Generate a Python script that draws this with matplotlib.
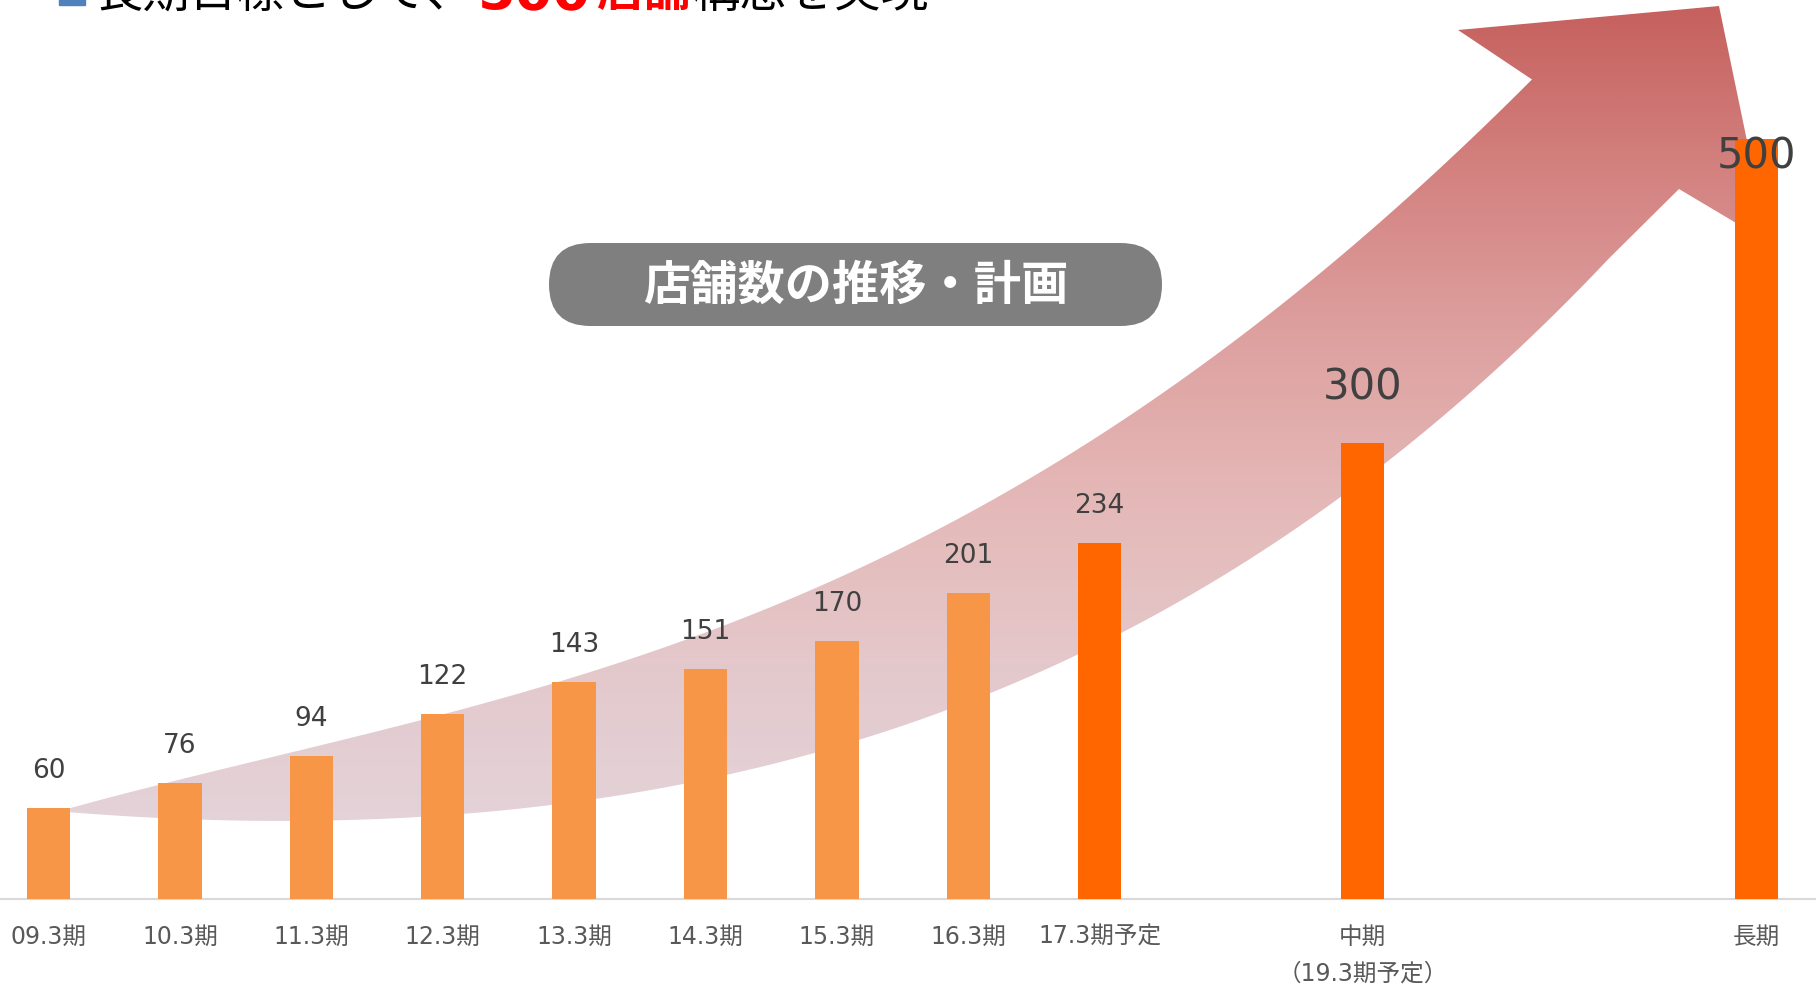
import numpy as np
import matplotlib
matplotlib.use('Agg')
import matplotlib.pyplot as plt
from matplotlib.patches import Polygon, FancyBboxPatch, Rectangle
from matplotlib.colors import LinearSegmentedColormap

plt.rcParams['font.family'] = ['Noto Sans CJK JP', 'DejaVu Sans']
LATIN_FIRST = ['DejaVu Sans', 'Noto Sans CJK JP']

periods = ['09.3期', '10.3期', '11.3期', '12.3期', '13.3期', '14.3期', '15.3期',
           '16.3期', '17.3期予定', '中期\n（19.3期予定）', '長期']
slots = [0, 1, 2, 3, 4, 5, 6, 7, 8, 10, 13]
stores = [60, 76, 94, 122, 143, 151, 170, 201, 234, 300, 500]
planned = [False] * 8 + [True] * 3

title_parts = ['長期目標として、', '500', '店舗', '構想を実現']
chart_title = '店舗数の推移・計画'

# outline of the big decorative arrow, canvas pixels (y down)
arrow_upper = [(70, 808), (174, 783), (290, 756), (446, 713), (558, 682), (650, 652),
               (765, 612), (880, 559), (994, 500), (1109, 430), (1150, 405), (1265, 320),
               (1380, 220), (1494, 115), (1532, 84)]
arrow_head = [(1458, 31), (1719, 7), (1768, 243), (1679, 190)]
arrow_lower = [(1609, 260), (1533, 333), (1383, 467), (1340, 500), (1250, 567),
               (1109, 633), (994, 688), (880, 733), (727, 778), (700, 787), (558, 806),
               (446, 815), (268, 819), (134, 817), (70, 815)]

W, H = 1816, 987
PX_PER_STORE = 1.52
SLOT_PX = 131.4
FIRST_PX = 48.5
BASE_PX = 900


def smooth_edge(points, deg=4, n=120):
    # the traced points are a bit noisy, so fit a smooth curve y(x) through them
    p = np.array(points, dtype=float)
    coef = np.polyfit(p[:, 0], p[:, 1], deg)
    xs = np.linspace(p[0, 0], p[-1, 0], n)
    return list(zip(xs, np.polyval(coef, xs)))


def draw_background(fig):
    bg = fig.add_axes([0, 0, 1, 1])
    bg.set_xlim(0, W)
    bg.set_ylim(H, 0)
    bg.axis('off')

    # gradient arrow
    verts = smooth_edge(arrow_upper) + arrow_head + smooth_edge(arrow_lower)
    outline = Polygon(verts, closed=True, facecolor='none', edgecolor='none',
                      transform=bg.transData)
    bg.add_patch(outline)
    cmap = LinearSegmentedColormap.from_list(
        'arrow', ['#C55F5C', '#D3817F', '#DDA09F', '#E4B8B7', '#E4C8CB', '#E3D3D9'])
    grad = np.linspace(0, 1, 256).reshape(-1, 1)
    img = bg.imshow(grad, cmap=cmap, extent=(0, W, 830, 0), aspect='auto',
                    interpolation='bicubic')
    img.set_clip_path(outline)

    # headline, cut at the top edge like the slide it came from
    bg.add_patch(Rectangle((59, -20), 26, 26, color='#4F81BD'))
    bg.text(96, 7, title_parts[0], fontsize=34, va='baseline', color='black')
    bg.text(478, 10, title_parts[1], fontsize=39, va='baseline', color='#FF0000',
            fontweight='bold', family='DejaVu Sans')
    bg.text(596, 7, title_parts[2], fontsize=34, va='baseline', color='#FF0000',
            fontweight='bold')
    bg.text(692, 7, title_parts[3], fontsize=34, va='baseline', color='black')

    # grey pill title
    pill = FancyBboxPatch((549, 244), 613, 83,
                          boxstyle='round,pad=0,rounding_size=41.5',
                          facecolor='#7F7F7F', edgecolor='none')
    bg.add_patch(pill)
    bg.text(855.5, 285.5, chart_title, fontsize=34, fontweight='bold', color='white',
            ha='center', va='center')


def draw_bars(fig):
    ax = fig.add_axes([0, (H - BASE_PX) / H, 1, BASE_PX / H])
    ax.patch.set_alpha(0)
    ax.set_ylim(0, BASE_PX / PX_PER_STORE)
    ax.set_xlim(-FIRST_PX / SLOT_PX, (W - FIRST_PX) / SLOT_PX)

    colors = ['#FF6600' if p else '#F79646' for p in planned]
    ax.bar(slots, stores, width=0.33, color=colors, zorder=3)

    label_cap = (BASE_PX - 157) / PX_PER_STORE
    for x, v in zip(slots, stores):
        if v >= 300:
            y = min(v + 56 / PX_PER_STORE, label_cap)
            ax.text(x, y, str(v), fontsize=30, color='#404040', ha='center',
                    va='center', family='DejaVu Sans', zorder=4)
        else:
            ax.text(x, v + 38 / PX_PER_STORE, str(v), fontsize=19, color='#404040',
                    ha='center', va='center', family='DejaVu Sans', zorder=4)

    for side in ['top', 'left', 'right']:
        ax.spines[side].set_visible(False)
    ax.spines['bottom'].set_color('#D9D9D9')
    ax.spines['bottom'].set_linewidth(1.5)
    ax.set_yticks([])
    ax.set_xticks(slots)
    ax.set_xticklabels(periods, fontsize=17, color='#595959', linespacing=1.65,
                       family=LATIN_FIRST)
    ax.tick_params(axis='x', length=0, pad=18)


def main():
    fig = plt.figure(figsize=(W / 100, H / 100), dpi=100)
    fig.patch.set_facecolor('white')
    draw_background(fig)
    draw_bars(fig)
    fig.savefig('out.png', dpi=100)


if __name__ == '__main__':
    main()
